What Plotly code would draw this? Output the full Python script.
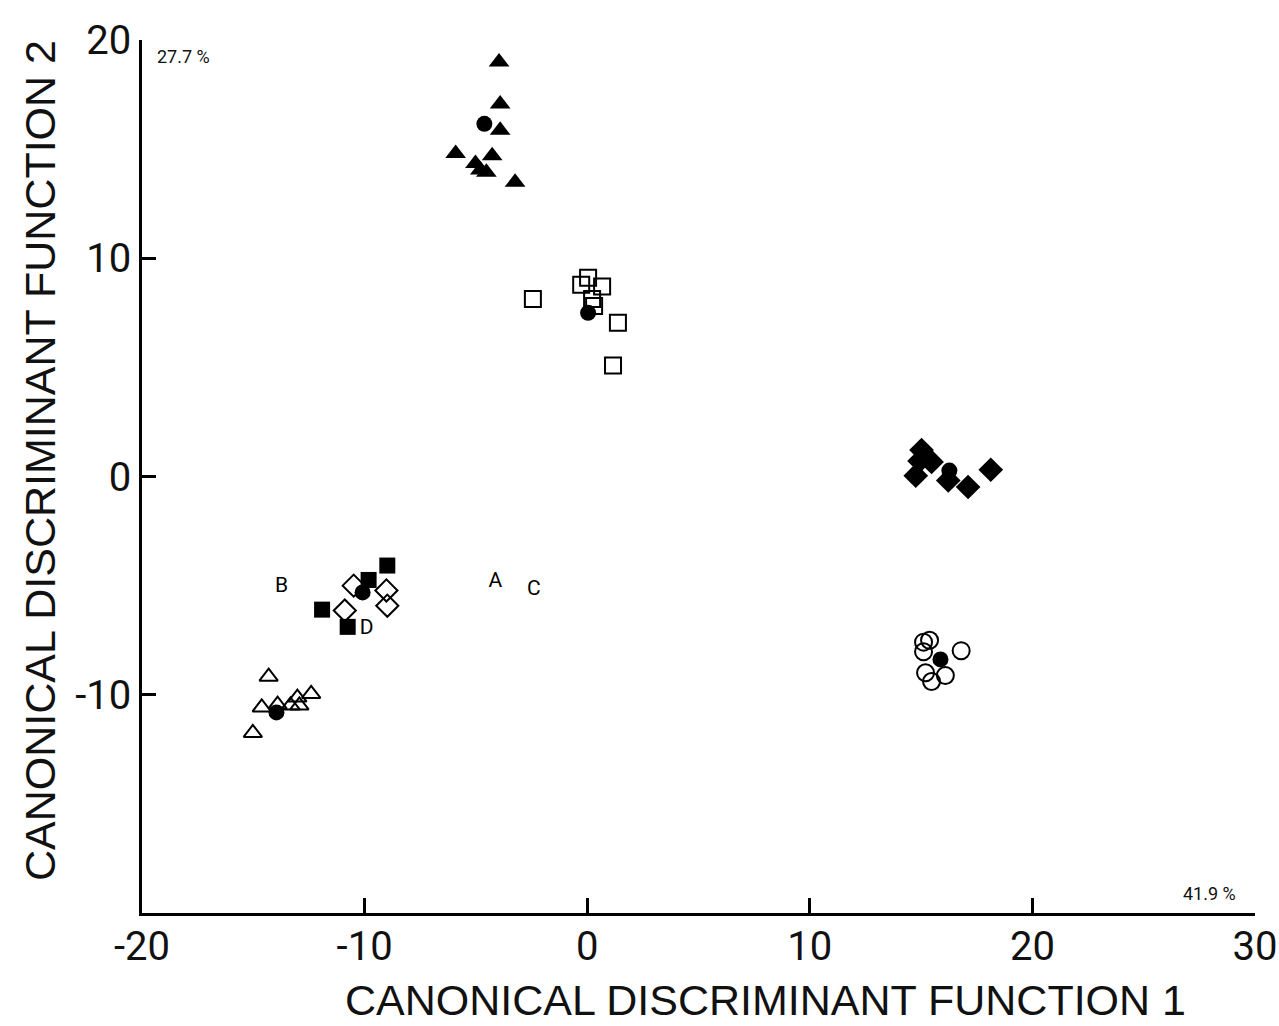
import plotly.graph_objects as go

# ---- data ----
filled_tri_x = [-3.96, -3.91, -3.91, -5.91, -4.27, -5.02, -4.80, -4.53, -3.24]
filled_tri_y = [18.99, 17.07, 15.86, 14.80, 14.70, 14.34, 14.04, 13.94, 13.48]

open_sq_x = [-2.44, 0.04, -0.27, 0.67, 0.22, 0.31, 1.38, 1.16]
open_sq_y = [8.13, 9.11, 8.79, 8.71, 8.13, 7.81, 7.05, 5.09]

filled_dia_x = [15.02, 14.93, 15.47, 14.76, 16.22, 17.11, 18.13]
filled_dia_y = [1.21, 0.71, 0.67, 0.04, -0.18, -0.48, 0.31]

open_circ_x = [15.11, 15.38, 15.11, 16.80, 15.20, 15.47, 16.09]
open_circ_y = [-7.59, -7.50, -8.03, -7.98, -8.99, -9.39, -9.12]

filled_sq_x = [-8.98, -9.82, -11.91, -10.76]
filled_sq_y = [-4.08, -4.74, -6.10, -6.89]

open_dia_x = [-10.49, -9.02, -8.98, -10.89]
open_dia_y = [-5.00, -5.22, -5.92, -6.14]

open_tri_x = [-14.31, -14.62, -13.91, -13.33, -13.02, -12.40, -12.93, -15.02]
open_tri_y = [-9.17, -10.58, -10.45, -10.49, -10.13, -9.96, -10.49, -11.75]

centroid_x = [-4.62, 0.04, 16.27, 15.87, -10.09, -13.96]
centroid_y = [16.16, 7.50, 0.27, -8.38, -5.31, -10.81]

label_text = ["A", "B", "C", "D"]
label_x = [-4.13, -13.73, -2.40, -9.91]
label_y = [-4.82, -5.04, -5.18, -6.97]

x_ticks = [-20, -10, 0, 10, 20, 30]
x_tick_text = ["-20", "-10", "0", "10", "20", "30"]
y_ticks = [-20, -10, 0, 10, 20]
y_tick_text = ["", "-10", "0", "10", "20"]

x_title = "CANONICAL DISCRIMINANT FUNCTION 1"
y_title = "CANONICAL DISCRIMINANT FUNCTION 2"
pct_x_label = "41.9 %"
pct_y_label = "27.7 %"

# ---- figure ----
fig = go.Figure()

def add(xs, ys, symbol, size):
    open_ = symbol.endswith("-open")
    fig.add_trace(go.Scatter(
        x=xs, y=ys, mode="markers",
        marker=dict(symbol=symbol, size=size, color="black",
                    line=dict(color="black", width=2 if open_ else 0)),
        showlegend=False, hoverinfo="x+y"))

add(filled_tri_x, filled_tri_y, "triangle-up", 18)
add(open_sq_x, open_sq_y, "square-open", 16)
add(filled_dia_x, filled_dia_y, "diamond", 19)
add(open_circ_x, open_circ_y, "circle-open", 17)
add(open_dia_x, open_dia_y, "diamond-open", 17)
add(filled_sq_x, filled_sq_y, "square", 16)
add(open_tri_x, open_tri_y, "triangle-up-open", 16)
add(centroid_x, centroid_y, "circle", 16)

fig.add_trace(go.Scatter(
    x=label_x, y=label_y, mode="text", text=label_text,
    textfont=dict(family="Roboto", size=21, color="black"),
    showlegend=False, hoverinfo="skip"))

font_ticks = dict(family="Roboto", size=40, color="#111")
font_title = dict(family="Liberation Sans", size=43, color="#111")

L, R, T, B = 142, 24, 40, 113
PW, PH = 1279 - L - R, 1026 - T - B

fig.update_xaxes(
    range=[-20, 30], tickvals=x_ticks, ticktext=x_tick_text,
    ticks="inside", ticklen=15, tickwidth=2.5, ticklabeloverflow="allow",
    automargin=False, ticklabelstandoff=-4,
    tickcolor="black", showline=True, linecolor="black", linewidth=2.5,
    showgrid=False, zeroline=False, tickfont=font_ticks,
)
fig.update_yaxes(
    range=[-20, 20], tickvals=y_ticks, ticktext=y_tick_text,
    ticks="inside", ticklen=14, tickwidth=2.5, automargin=False,
    tickcolor="black", showline=True, linecolor="black", linewidth=2.5,
    showgrid=False, zeroline=False, tickfont=font_ticks,
)

# axis titles placed as annotations (pixel-matched to the reference)
fig.add_annotation(x=(765 - L) / PW, y=-(1000 - (T + PH)) / PH, xref="paper", yref="paper",
                   text=x_title, showarrow=False, xanchor="center", yanchor="middle",
                   font=font_title)
fig.add_annotation(x=-(L - 40) / PW, y=((T + PH) - 461) / PH, xref="paper", yref="paper",
                   text=y_title, showarrow=False, xanchor="center", yanchor="middle",
                   textangle=-90, font=font_title)

fig.add_annotation(x=0.012, y=0.995, xref="paper", yref="paper", text=pct_y_label,
                   showarrow=False, xanchor="left", yanchor="top",
                   font=dict(family="Roboto", size=18, color="#111"))
fig.add_annotation(x=0.985, y=0.008, xref="paper", yref="paper", text=pct_x_label,
                   showarrow=False, xanchor="right", yanchor="bottom",
                   font=dict(family="Roboto", size=18, color="#111"))

fig.update_layout(
    width=1279, height=1026,
    margin=dict(l=L, r=R, t=T, b=B),
    plot_bgcolor="white", paper_bgcolor="white",
)

fig.write_html("out.html")
